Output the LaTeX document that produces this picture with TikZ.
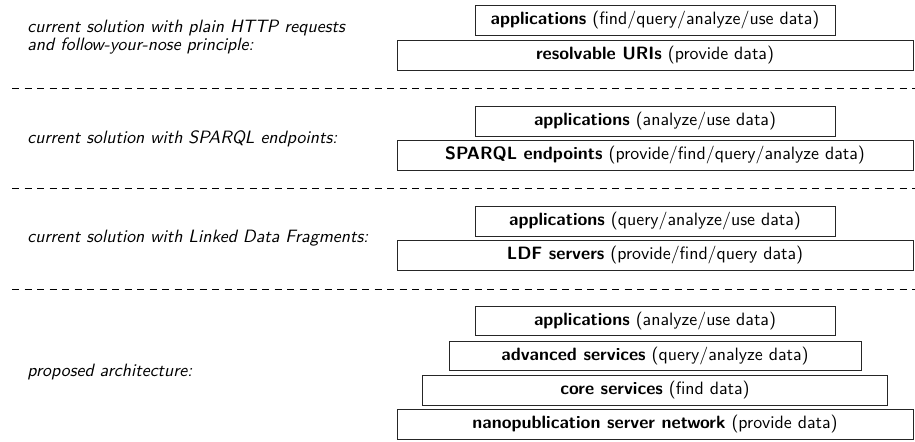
\documentclass[tikz,border=0pt]{standalone}
\usepackage{tikz}
\tikzset{
  layer/.style={draw=black!85, line width=0.5pt, minimum height=16.5pt, inner sep=0pt, font=\sffamily},
  caption/.style={anchor=west, inner sep=0pt, font=\sffamily\itshape, align=left},
  separator/.style={dash pattern=on 4pt off 3pt, line width=0.4pt}
}
\begin{document}
\begin{tikzpicture}[line cap=butt, line join=miter, x=0.56pt, y=-0.56pt]
    \useasboundingbox (0,0) rectangle (915,441);
    % plain HTTP
    \node[caption] (lab1) at (27,37) {current solution with plain HTTP requests\\[-2pt]and follow-your-nose principle:};
    \node[layer, minimum width=201.6pt] (app1) at (655,20.5) {\textbf{applications} (find/query/analyze/use data)};
    \node[layer, minimum width=289pt] (uri) at (655,55.5) {\textbf{resolvable URIs} (provide data)};
    \coordinate (s1a) at (12,88);
    \coordinate (s1b) at (915,88);
    \draw[separator] (s1a) -- (s1b);
    % SPARQL
    \node[caption] (lab2) at (27,138.5) {current solution with SPARQL endpoints:};
    \node[layer, minimum width=201.6pt] (app2) at (655,121.5) {\textbf{applications} (analyze/use data)};
    \node[layer, minimum width=289pt] (sparql) at (655,155.5) {\textbf{SPARQL endpoints} (provide/find/query/analyze data)};
    \coordinate (s2a) at (12,188);
    \coordinate (s2b) at (915,188);
    \draw[separator] (s2a) -- (s2b);
    % LDF
    \node[caption] (lab3) at (27,238.5) {current solution with Linked Data Fragments:};
    \node[layer, minimum width=201.6pt] (app3) at (655,221.5) {\textbf{applications} (query/analyze/use data)};
    \node[layer, minimum width=289pt] (ldf) at (655,255.5) {\textbf{LDF servers} (provide/find/query data)};
    \coordinate (s3a) at (12,289);
    \coordinate (s3b) at (915,289);
    \draw[separator] (s3a) -- (s3b);
    % proposed
    \node[caption] (lab4) at (27,372.5) {proposed architecture:};
    \node[layer, minimum width=201.6pt] (app4) at (655,321) {\textbf{applications} (analyze/use data)};
    \node[layer, minimum width=230.7pt] (adv) at (655,356) {\textbf{advanced services} (query/analyze data)};
    \node[layer, minimum width=260.4pt] (core) at (655,390.5) {\textbf{core services} (find data)};
    \node[layer, minimum width=289pt] (nano) at (655,424.5) {\textbf{nanopublication server network} (provide data)};
\end{tikzpicture}
\end{document}
